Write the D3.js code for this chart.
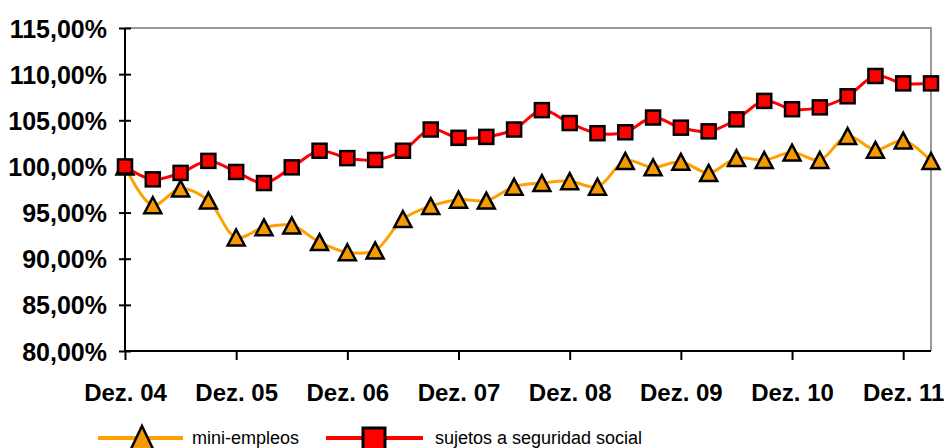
<!DOCTYPE html>
<html lang="es">
    <head>
        <meta charset="UTF-8" />
        <title>mini-empleos / sujetos a seguridad social</title>
        <script src="https://cdn.jsdelivr.net/npm/d3@7"></script>
        <style>
            body { margin: 0; background: #fff; }
            svg { display: block; font-family: "Liberation Sans", Arial, sans-serif; }
            .tick text { font-weight: bold; fill: #000; }
        </style>
    </head>
    <body>
        <div class="main_div"></div>

        <script>
            // quarters from Dez. 04 to Mrz. 12
            const quarters = ["Dez. 04","Mrz. 05","Jun. 05","Sep. 05","Dez. 05","Mrz. 06","Jun. 06","Sep. 06",
                              "Dez. 06","Mrz. 07","Jun. 07","Sep. 07","Dez. 07","Mrz. 08","Jun. 08","Sep. 08",
                              "Dez. 08","Mrz. 09","Jun. 09","Sep. 09","Dez. 09","Mrz. 10","Jun. 10","Sep. 10",
                              "Dez. 10","Mrz. 11","Jun. 11","Sep. 11","Dez. 11","Mrz. 12"];
            const xTicks = ["Dez. 04","Dez. 05","Dez. 06","Dez. 07","Dez. 08","Dez. 09","Dez. 10","Dez. 11"];
            const yTicks = [80, 85, 90, 95, 100, 105, 110, 115];

            const miniEmpleos = [100, 95.8, 97.6, 96.3, 92.3, 93.4, 93.6, 91.8, 90.7, 90.9,
                                 94.3, 95.7, 96.4, 96.3, 97.8, 98.2, 98.4, 97.8, 100.6, 99.9,
                                 100.5, 99.3, 100.9, 100.7, 101.5, 100.7, 103.3, 101.8, 102.8, 100.6];
            const sujetos = [100, 98.6, 99.3, 100.6, 99.4, 98.2, 99.9, 101.7, 100.9, 100.7,
                             101.7, 104.0, 103.1, 103.2, 104.0, 106.1, 104.7, 103.6, 103.7, 105.3,
                             104.2, 103.8, 105.1, 107.1, 106.2, 106.4, 107.6, 109.8, 109.0, 109.0];

            const w = 944;
            const h = 448;
            const pLeft = 125, pRight = 931, pTop = 28, pBottom = 351;

            const xScale = d3.scalePoint(quarters, [pLeft, pRight]);
            const yScale = d3.scaleLinear([80, 115], [pBottom, pTop]);

            const esLocale = d3.formatLocale({decimal: ",", thousands: ".", grouping: [3], currency: ["", "€"]});
            const pct = esLocale.format(".2f");

            const svg = d3.select(".main_div")
                          .append("svg")
                          .attr("width", w)
                          .attr("height", h);

            // gray frame top and right
            svg.append("path")
               .attr("d", `M${pLeft},${pTop}H${pRight}V${pBottom}`)
               .attr("fill", "none")
               .attr("stroke", "#999")
               .attr("stroke-width", 2);

            // y axis
            const yAxis = svg.append("g")
                .attr("transform", "translate(" + pLeft + ",0)")
                .call(d3.axisLeft(yScale).tickValues(yTicks).tickSize(6).tickPadding(12)
                        .tickFormat(d => pct(d) + "%"));
            yAxis.selectAll(".tick line").attr("x1", 6).attr("stroke-width", 2);
            yAxis.select(".domain").attr("stroke-width", 2).attr("d", `M0,${pTop}V${pBottom}`);
            yAxis.selectAll("text").style("font-size", "25px").attr("dy", "0.36em");

            // x axis
            const xAxis = svg.append("g")
                .attr("transform", "translate(0," + pBottom + ")")
                .call(d3.axisBottom(xScale).tickValues(xTicks).tickSize(9).tickPadding(24));
            xAxis.selectAll(".tick line").attr("stroke-width", 2);
            xAxis.select(".domain").attr("stroke-width", 2).attr("d", `M${pLeft},0H${pRight}`);
            xAxis.selectAll("text").style("font-size", "24px");

            const line = d3.line()
                           .x((d, i) => xScale(quarters[i]))
                           .y(d => yScale(d))
                           .curve(d3.curveCatmullRom);

            // triangle centred on its box, like the spreadsheet marker
            const triangle = (s, t) => `M0,${-t / 2}L${s / 2},${t / 2}L${-s / 2},${t / 2}Z`;

            // mini-empleos
            svg.append("path")
               .datum(miniEmpleos)
               .attr("d", line)
               .attr("fill", "none")
               .attr("stroke", "#ffa000")
               .attr("stroke-width", 3);

            svg.selectAll(".tri")
               .data(miniEmpleos)
               .enter()
               .append("path")
               .attr("class", "tri")
               .attr("d", triangle(17, 16))
               .attr("transform", (d, i) => "translate(" + xScale(quarters[i]) + "," + yScale(d) + ")")
               .attr("fill", "#f39a00")
               .attr("stroke", "#000")
               .attr("stroke-width", 2.5)
               .attr("stroke-linejoin", "miter");

            // sujetos a seguridad social
            svg.append("path")
               .datum(sujetos)
               .attr("d", line)
               .attr("fill", "none")
               .attr("stroke", "#ff0000")
               .attr("stroke-width", 3);

            svg.selectAll(".sq")
               .data(sujetos)
               .enter()
               .append("rect")
               .attr("class", "sq")
               .attr("x", (d, i) => xScale(quarters[i]) - 7)
               .attr("y", d => yScale(d) - 7)
               .attr("width", 14)
               .attr("height", 14)
               .attr("fill", "#ff0000")
               .attr("stroke", "#000")
               .attr("stroke-width", 2.5);

            // legend
            const legend = svg.append("g").attr("transform", "translate(0,438)");
            legend.append("line").attr("x1", 98).attr("x2", 183)
                  .attr("stroke", "#ffa000").attr("stroke-width", 4);
            legend.append("path").attr("d", triangle(23, 24)).attr("transform", "translate(142,0)")
                  .attr("fill", "#f39a00").attr("stroke", "#000").attr("stroke-width", 2.5);
            legend.append("text").attr("x", 192).attr("y", 6)
                  .style("font-size", "18px").text("mini-empleos");

            legend.append("line").attr("x1", 326).attr("x2", 423)
                  .attr("stroke", "#ff0000").attr("stroke-width", 4);
            legend.append("rect").attr("x", 363).attr("y", -10).attr("width", 22).attr("height", 22)
                  .attr("fill", "#ff0000").attr("stroke", "#000").attr("stroke-width", 3);
            legend.append("text").attr("x", 435).attr("y", 6)
                  .style("font-size", "18px").text("sujetos a seguridad social");
        </script>
    </body>
</html>
